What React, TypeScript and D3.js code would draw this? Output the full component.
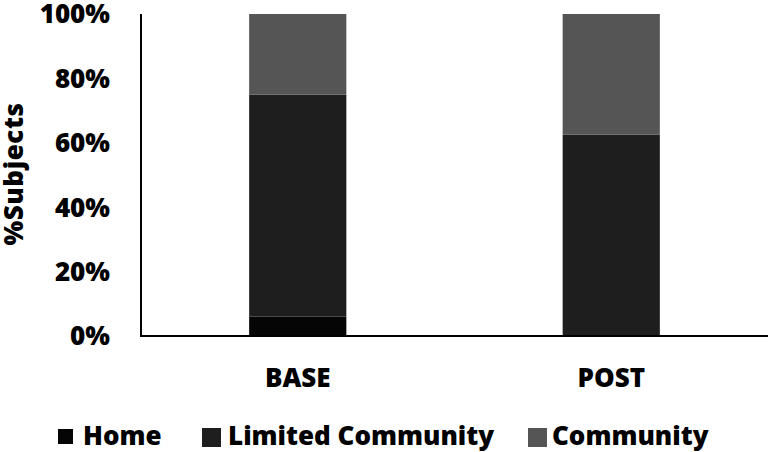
import React from "react";
import * as d3 from "d3";

const categories = ["BASE", "POST"];
const seriesNames = ["Home", "Limited Community", "Community"];
const home = [6, 0];
const limitedCommunity = [69, 62.5];
const community = [25, 37.5];
const seriesColors = ["#050505", "#1e1e1e", "#555555"];
const yTicks = [0, 20, 40, 60, 80, 100];

const W = 768;
const H = 452;
const FONT = "'Open Sans', Lato, sans-serif";

export default function App() {
  const x = d3
    .scaleBand<string>()
    .domain(categories)
    .range([141, 768])
    .paddingInner(0.69)
    .paddingOuter(0.345);
  const y = d3.scaleLinear().domain([0, 100]).range([336, 14]);

  const rows = categories.map((c, i) => ({
    cat: c,
    Home: home[i],
    "Limited Community": limitedCommunity[i],
    Community: community[i],
  }));
  const stacked = d3.stack<any>().keys(seriesNames)(rows);

  const legendX = [58, 203, 527];
  const legendBox = [
    { x: 0, y: 429, s: 15 },
    { x: -1, y: 428, s: 19 },
    { x: 1, y: 428, s: 19 },
  ];
  const common = {
    fontFamily: FONT,
    fontWeight: 800,
    fontSize: 26,
    fill: "#000",
  } as const;

  return (
    <svg width={W} height={H} style={{ position: "absolute", left: 0, top: 0 }}>
      <rect width={W} height={H} fill="#fff" />
      {stacked.map((s, si) =>
        s.map((d, i) => {
          const h = y(d[0]) - y(d[1]);
          if (h <= 0) return null;
          return (
            <rect
              key={si + "-" + i}
              x={x(categories[i])}
              y={y(d[1])}
              width={x.bandwidth()}
              height={h}
              fill={seriesColors[si]}
            />
          );
        })
      )}
      <line x1={141} x2={141} y1={14} y2={337} stroke="#000" strokeWidth={2} />
      <line x1={140} x2={768} y1={336} y2={336} stroke="#000" strokeWidth={2} />
      {yTicks.map((t) => (
        <text key={t} x={110} y={y(t)} dy="0.36em" textAnchor="end" {...common}>
          {t + "%"}
        </text>
      ))}
      <text
        transform={`translate(23,174) rotate(-90)`}
        textAnchor="middle"
        {...common}
        letterSpacing={0.6}
      >
        %Subjects
      </text>
      {categories.map((c) => (
        <text
          key={c}
          x={(x(c) as number) + x.bandwidth() / 2}
          y={387}
          textAnchor="middle"
          {...common}
        >
          {c}
        </text>
      ))}
      {seriesNames.map((n, i) => (
        <g key={n} transform={`translate(${legendX[i]},0)`}>
          <rect
            x={legendBox[i].x}
            y={legendBox[i].y}
            width={legendBox[i].s}
            height={legendBox[i].s}
            fill={seriesColors[i]}
          />
          <text x={25} y={445} {...common}>
            {n}
          </text>
        </g>
      ))}
    </svg>
  );
}
